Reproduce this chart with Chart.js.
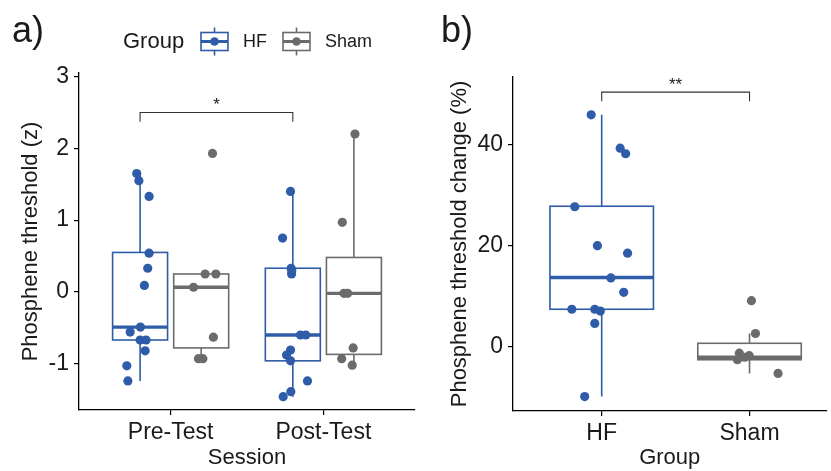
<!DOCTYPE html>
<html>
<head>
<meta charset="utf-8">
<script src="https://cdn.jsdelivr.net/npm/chart.js@4.4.0/dist/chart.umd.min.js"></script>
<style>
  body { margin: 0; background: #fff; }
  #wrap { position: relative; width: 831px; height: 471px; }
  canvas { position: absolute; top: 0; }
</style>
</head>
<body>
<div id="wrap">
  <canvas id="chartA" width="420" height="471" style="left:0"></canvas>
  <canvas id="chartB" width="411" height="471" style="left:420px"></canvas>
</div>
<script>
const sessions = ['Pre-Test', 'Post-Test'];
const groupNames = ['HF', 'Sham'];
const zTicks = [-1, 0, 1, 2, 3];
const changeTicks = [0, 20, 40];

// panel a) - phosphene threshold (z) per participant, jitter
const hfPre = [1.65, 1.55, 1.33, 0.54, 0.33, 0.09, -0.49, -0.56, -0.67, -0.67, -0.82, -1.03, -1.24];
const hfPreJit = [-0.022, -0.008, 0.059, 0.059, 0.05, 0.028, 0.002, -0.065, 0, 0.039, 0.033, -0.087, -0.08];
const shamPre = [1.93, 0.25, 0.25, 0.065, -0.63, -0.93, -0.93];
const shamPreJit = [0.074, 0.026, 0.096, -0.05, 0.08, -0.018, 0.011];
const hfPost = [1.40, 0.75, 0.33, 0.30, 0.25, -0.60, -0.60, -0.81, -0.88, -0.96, -1.24, -1.39, -1.46];
const hfPostJit = [-0.015, -0.067, -0.011, -0.007, -0.008, 0.05, 0.085, -0.015, -0.041, -0.015, 0.096, -0.013, -0.063];
const shamPost = [2.20, 0.97, -0.02, -0.02, -0.78, -0.93, -1.02];
const shamPostJit = [0.007, -0.076, -0.065, -0.041, -0.005, -0.08, -0.011];

// box stats: [lower whisker, q1, median, q3, upper whisker]
const hfPreBox = [-1.24, -0.67, -0.49, 0.55, 1.65];
const shamPreBox = [-0.93, -0.78, 0.065, 0.25, 0.25];
const hfPostBox = [-1.46, -0.96, -0.60, 0.33, 1.40];
const shamPostBox = [-1.02, -0.87, -0.02, 0.48, 2.20];

// panel b) - threshold change (%)
const hfChange = [45.9, 39.3, 38.2, 27.7, 20.0, 18.5, 13.6, 10.75, 7.4, 7.4, 7.05, 4.6, -9.9];
const hfChangeJit = [-0.071, 0.125, 0.162, -0.182, -0.029, 0.175, 0.062, 0.149, -0.202, -0.047, -0.009, -0.047, -0.115];
const shamChange = [9.1, 2.6, -1.3, -1.8, -2.1, -2.6, -5.3];
const shamChangeJit = [0.013, 0.04, -0.069, -0.002, -0.033, -0.082, 0.193];
const hfChangeBox = [-9.9, 7.4, 13.7, 27.8, 45.9];
const shamChangeBox = [-5.3, -2.6, -2.1, 0.66, 2.6];

const hfColor = '#2F5CA8';
const shamColor = '#6B6B6B';
const inkColor = '#1a1a1a';
const dodge = 0.2;

Chart.defaults.font.family = "'Liberation Sans', Arial, sans-serif";

function points(label, values, jitter, xCenter, color) {
    return {
        label: label,
        data: values.map((v, i) => ({ x: xCenter + jitter[i], y: v })),
        backgroundColor: color,
        borderWidth: 0,
        pointRadius: 4.6,
        pointHoverRadius: 4.6
    };
}

// draws the box + whiskers under the points, and the significance brackets
const boxPlots = {
    id: 'boxPlots',
    beforeDatasetsDraw(chart, args, opts) {
        const { ctx, scales: { x, y } } = chart;
        ctx.save();
        opts.boxes.forEach(b => {
            const [lo, q1, med, q3, hi] = b.stats;
            const xc = x.getPixelForValue(b.x);
            const xl = x.getPixelForValue(b.x - b.width / 2);
            const xr = x.getPixelForValue(b.x + b.width / 2);
            const yTop = y.getPixelForValue(q3);
            const yBot = y.getPixelForValue(q1);
            ctx.strokeStyle = b.color;
            ctx.lineWidth = 1.6;
            ctx.beginPath();
            ctx.moveTo(xc, yTop); ctx.lineTo(xc, y.getPixelForValue(hi));
            ctx.moveTo(xc, yBot); ctx.lineTo(xc, y.getPixelForValue(lo));
            ctx.stroke();
            ctx.fillStyle = '#fff';
            ctx.fillRect(xl, yTop, xr - xl, yBot - yTop);
            ctx.strokeRect(xl, yTop, xr - xl, yBot - yTop);
            ctx.lineWidth = 3.4;
            ctx.beginPath();
            ctx.moveTo(xl, y.getPixelForValue(med));
            ctx.lineTo(xr, y.getPixelForValue(med));
            ctx.stroke();
        });
        (opts.brackets || []).forEach(br => {
            const x1 = x.getPixelForValue(br.x1), x2 = x.getPixelForValue(br.x2);
            const yb = y.getPixelForValue(br.y), yd = y.getPixelForValue(br.y - br.drop);
            ctx.strokeStyle = '#333';
            ctx.lineWidth = 1.1;
            ctx.beginPath();
            ctx.moveTo(x1, yd); ctx.lineTo(x1, yb); ctx.lineTo(x2, yb); ctx.lineTo(x2, yd);
            ctx.stroke();
            ctx.fillStyle = inkColor;
            ctx.font = "17px 'Liberation Sans', Arial, sans-serif";
            ctx.textAlign = 'center';
            ctx.textBaseline = 'alphabetic';
            ctx.fillText(br.label, (x1 + x2) / 2, yb - 2);
        });
        ctx.restore();
    }
};

// panel letters and the group legend
const panelText = {
    id: 'panelText',
    afterDraw(chart, args, opts) {
        const ctx = chart.ctx;
        ctx.save();
        ctx.fillStyle = inkColor;
        ctx.textBaseline = 'middle';
        ctx.textAlign = 'left';
        ctx.font = "36px 'Liberation Sans', Arial, sans-serif";
        ctx.fillText(opts.letter, opts.letterX, 32);
        if (opts.legend) {
            ctx.font = "22px 'Liberation Sans', Arial, sans-serif";
            ctx.fillText('Group', 123, 42);
            const keys = [[201, hfColor], [283, shamColor]];
            keys.forEach(([kx, color], i) => {
                const w = 27, xc = kx + w / 2;
                ctx.strokeStyle = color;
                ctx.fillStyle = color;
                ctx.lineWidth = 1.6;
                ctx.beginPath();
                ctx.moveTo(xc, 27.5); ctx.lineTo(xc, 32.5);
                ctx.moveTo(xc, 50.5); ctx.lineTo(xc, 55.5);
                ctx.stroke();
                ctx.strokeRect(kx, 32.5, w, 18);
                ctx.lineWidth = 3;
                ctx.beginPath();
                ctx.moveTo(kx, 41.5); ctx.lineTo(kx + w, 41.5);
                ctx.stroke();
                ctx.beginPath();
                ctx.arc(xc, 41.5, 4.3, 0, Math.PI * 2);
                ctx.fill();
                ctx.fillStyle = inkColor;
                ctx.font = "18px 'Liberation Sans', Arial, sans-serif";
                ctx.fillText(groupNames[i], kx + 42, 42);
            });
        }
        ctx.restore();
    }
};

function xAxis(min, max, labels, title, height) {
    return {
        type: 'linear', min: min, max: max,
        afterBuildTicks: s => { s.ticks = labels.map((l, i) => ({ value: i + 1 })); },
        afterFit: s => { s.height = height; },
        ticks: {
            callback: v => labels[Math.round(v) - 1],
            autoSkip: false, maxRotation: 0,
            color: inkColor, padding: 4,
            font: { size: 23 }
        },
        grid: { drawOnChartArea: false, drawTicks: true, tickLength: 5, color: '#000', lineWidth: 1.2 },
        border: { color: '#000', width: 1.3 },
        title: { display: true, text: title, color: inkColor, font: { size: 22 }, padding: { top: 0, bottom: 0 } }
    };
}

function yAxis(min, max, tickVals, title, width, titlePad) {
    return {
        type: 'linear', min: min, max: max,
        afterBuildTicks: s => { s.ticks = tickVals.map(v => ({ value: v })); },
        afterFit: s => { s.width = width; },
        ticks: { color: inkColor, padding: 5, font: { size: 23 } },
        grid: { drawOnChartArea: false, drawTicks: true, tickLength: 5, color: '#000', lineWidth: 1.2 },
        border: { color: '#000', width: 1.3 },
        title: { display: true, text: title, color: inkColor, font: { size: 22 }, padding: { top: titlePad, bottom: 0 } }
    };
}

new Chart(document.getElementById('chartA'), {
    type: 'scatter',
    data: {
        datasets: [
            points('HF', hfPre, hfPreJit, 1 - dodge, hfColor),
            points('Sham', shamPre, shamPreJit, 1 + dodge, shamColor),
            points('HF', hfPost, hfPostJit, 2 - dodge, hfColor),
            points('Sham', shamPost, shamPostJit, 2 + dodge, shamColor)
        ]
    },
    options: {
        responsive: false,
        animation: false,
        layout: { padding: { top: 73, right: 5, left: 0, bottom: 0 } },
        plugins: {
            legend: { display: false },
            tooltip: { enabled: false },
            boxPlots: {
                boxes: [
                    { x: 1 - dodge, width: 0.36, stats: hfPreBox, color: hfColor },
                    { x: 1 + dodge, width: 0.36, stats: shamPreBox, color: shamColor },
                    { x: 2 - dodge, width: 0.36, stats: hfPostBox, color: hfColor },
                    { x: 2 + dodge, width: 0.36, stats: shamPostBox, color: shamColor }
                ],
                brackets: [{ x1: 1 - dodge, x2: 2 - dodge, y: 2.5, drop: 0.13, label: '*' }]
            },
            panelText: { letter: 'a)', letterX: 12, legend: true }
        },
        scales: {
            x: xAxis(0.4, 2.6, sessions, 'Session', 61),
            y: yAxis(-1.645, 3.05, zTicks, 'Phosphene threshold (z)', 79, 18)
        }
    },
    plugins: [boxPlots, panelText]
});

new Chart(document.getElementById('chartB'), {
    type: 'scatter',
    data: {
        datasets: [
            points('HF', hfChange, hfChangeJit, 1, hfColor),
            points('Sham', shamChange, shamChangeJit, 2, shamColor)
        ]
    },
    options: {
        responsive: false,
        animation: false,
        layout: { padding: { top: 77, right: 0, left: 0, bottom: 0 } },
        plugins: {
            legend: { display: false },
            tooltip: { enabled: false },
            boxPlots: {
                boxes: [
                    { x: 1, width: 0.7, stats: hfChangeBox, color: hfColor },
                    { x: 2, width: 0.7, stats: shamChangeBox, color: shamColor }
                ],
                brackets: [{ x1: 1, x2: 2, y: 50.4, drop: 1.8, label: '**' }]
            },
            panelText: { letter: 'b)', letterX: 21, legend: false }
        },
        scales: {
            x: xAxis(0.4, 2.52, groupNames, 'Group', 60),
            y: yAxis(-12.75, 53.4, changeTicks, 'Phosphene threshold change (%)', 93, 27)
        }
    },
    plugins: [boxPlots, panelText]
});
</script>
</body>
</html>
